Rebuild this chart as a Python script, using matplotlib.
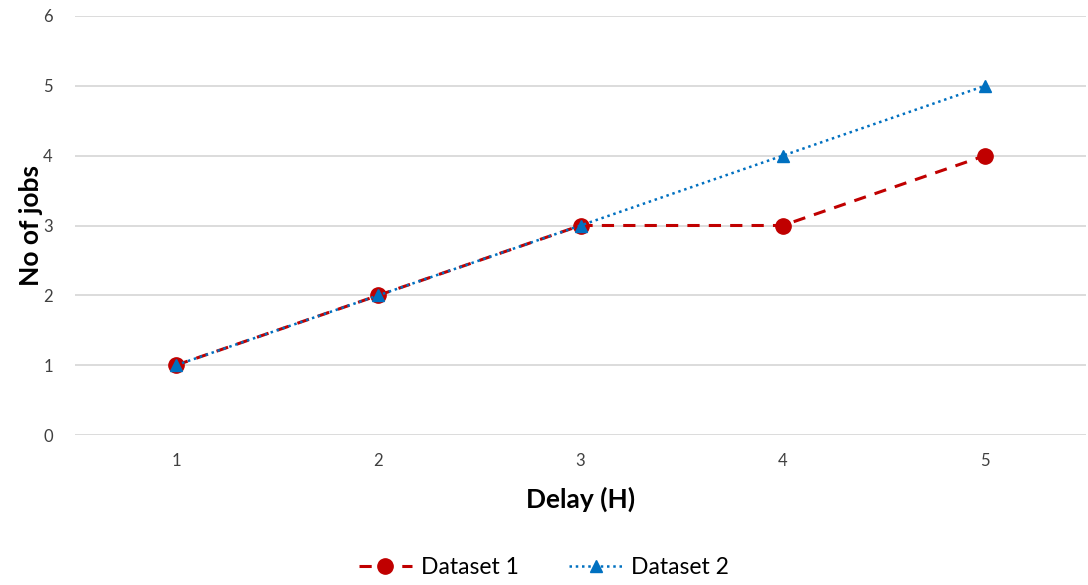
import matplotlib.pyplot as plt

delay = [1, 2, 3, 4, 5]
dataset1 = [1, 2, 3, 3, 4]
dataset2 = [1, 2, 3, 4, 5]
yticks = [0, 1, 2, 3, 4, 5, 6]

plt.rcParams['font.family'] = ['Lato', 'DejaVu Sans']

fig = plt.figure(figsize=(10.88, 5.85), dpi=100)
ax = fig.add_axes([75 / 1088, 1 - 435 / 585, 1011 / 1088, 419 / 585])

ax.plot(delay, dataset1, color='#C00000', lw=2.2, ls=(0, (4, 3)),
        marker='o', ms=11, label='Dataset 1', zorder=3)
ax.plot(delay, dataset2, color='#0070C0', lw=1.8, ls=(0, (1, 1.5)),
        marker='^', ms=8.5, label='Dataset 2', zorder=4)

ax.set_xlim(0.5, 5.5)
ax.set_ylim(0, 6)
ax.set_xticks(delay)
ax.set_yticks(yticks)
ax.yaxis.grid(True, color='#d9d9d9', lw=1.3)
ax.set_axisbelow(True)
for s in ax.spines.values():
    s.set_visible(False)
ax.tick_params(length=0, colors='#404040', labelsize=12, pad=13)
ax.tick_params(axis='y', pad=16)

ax.set_xlabel('Delay (H)', fontsize=19, fontweight='bold', labelpad=13)
ax.set_ylabel('No of jobs', fontsize=19, fontweight='bold', labelpad=0)

fig.legend(loc='lower center', bbox_to_anchor=(0.5, -0.024), ncol=2,
           frameon=False, fontsize=16.5, handlelength=2.3, columnspacing=2.2,
           handletextpad=0.4)

fig.savefig('out.png', dpi=100)
